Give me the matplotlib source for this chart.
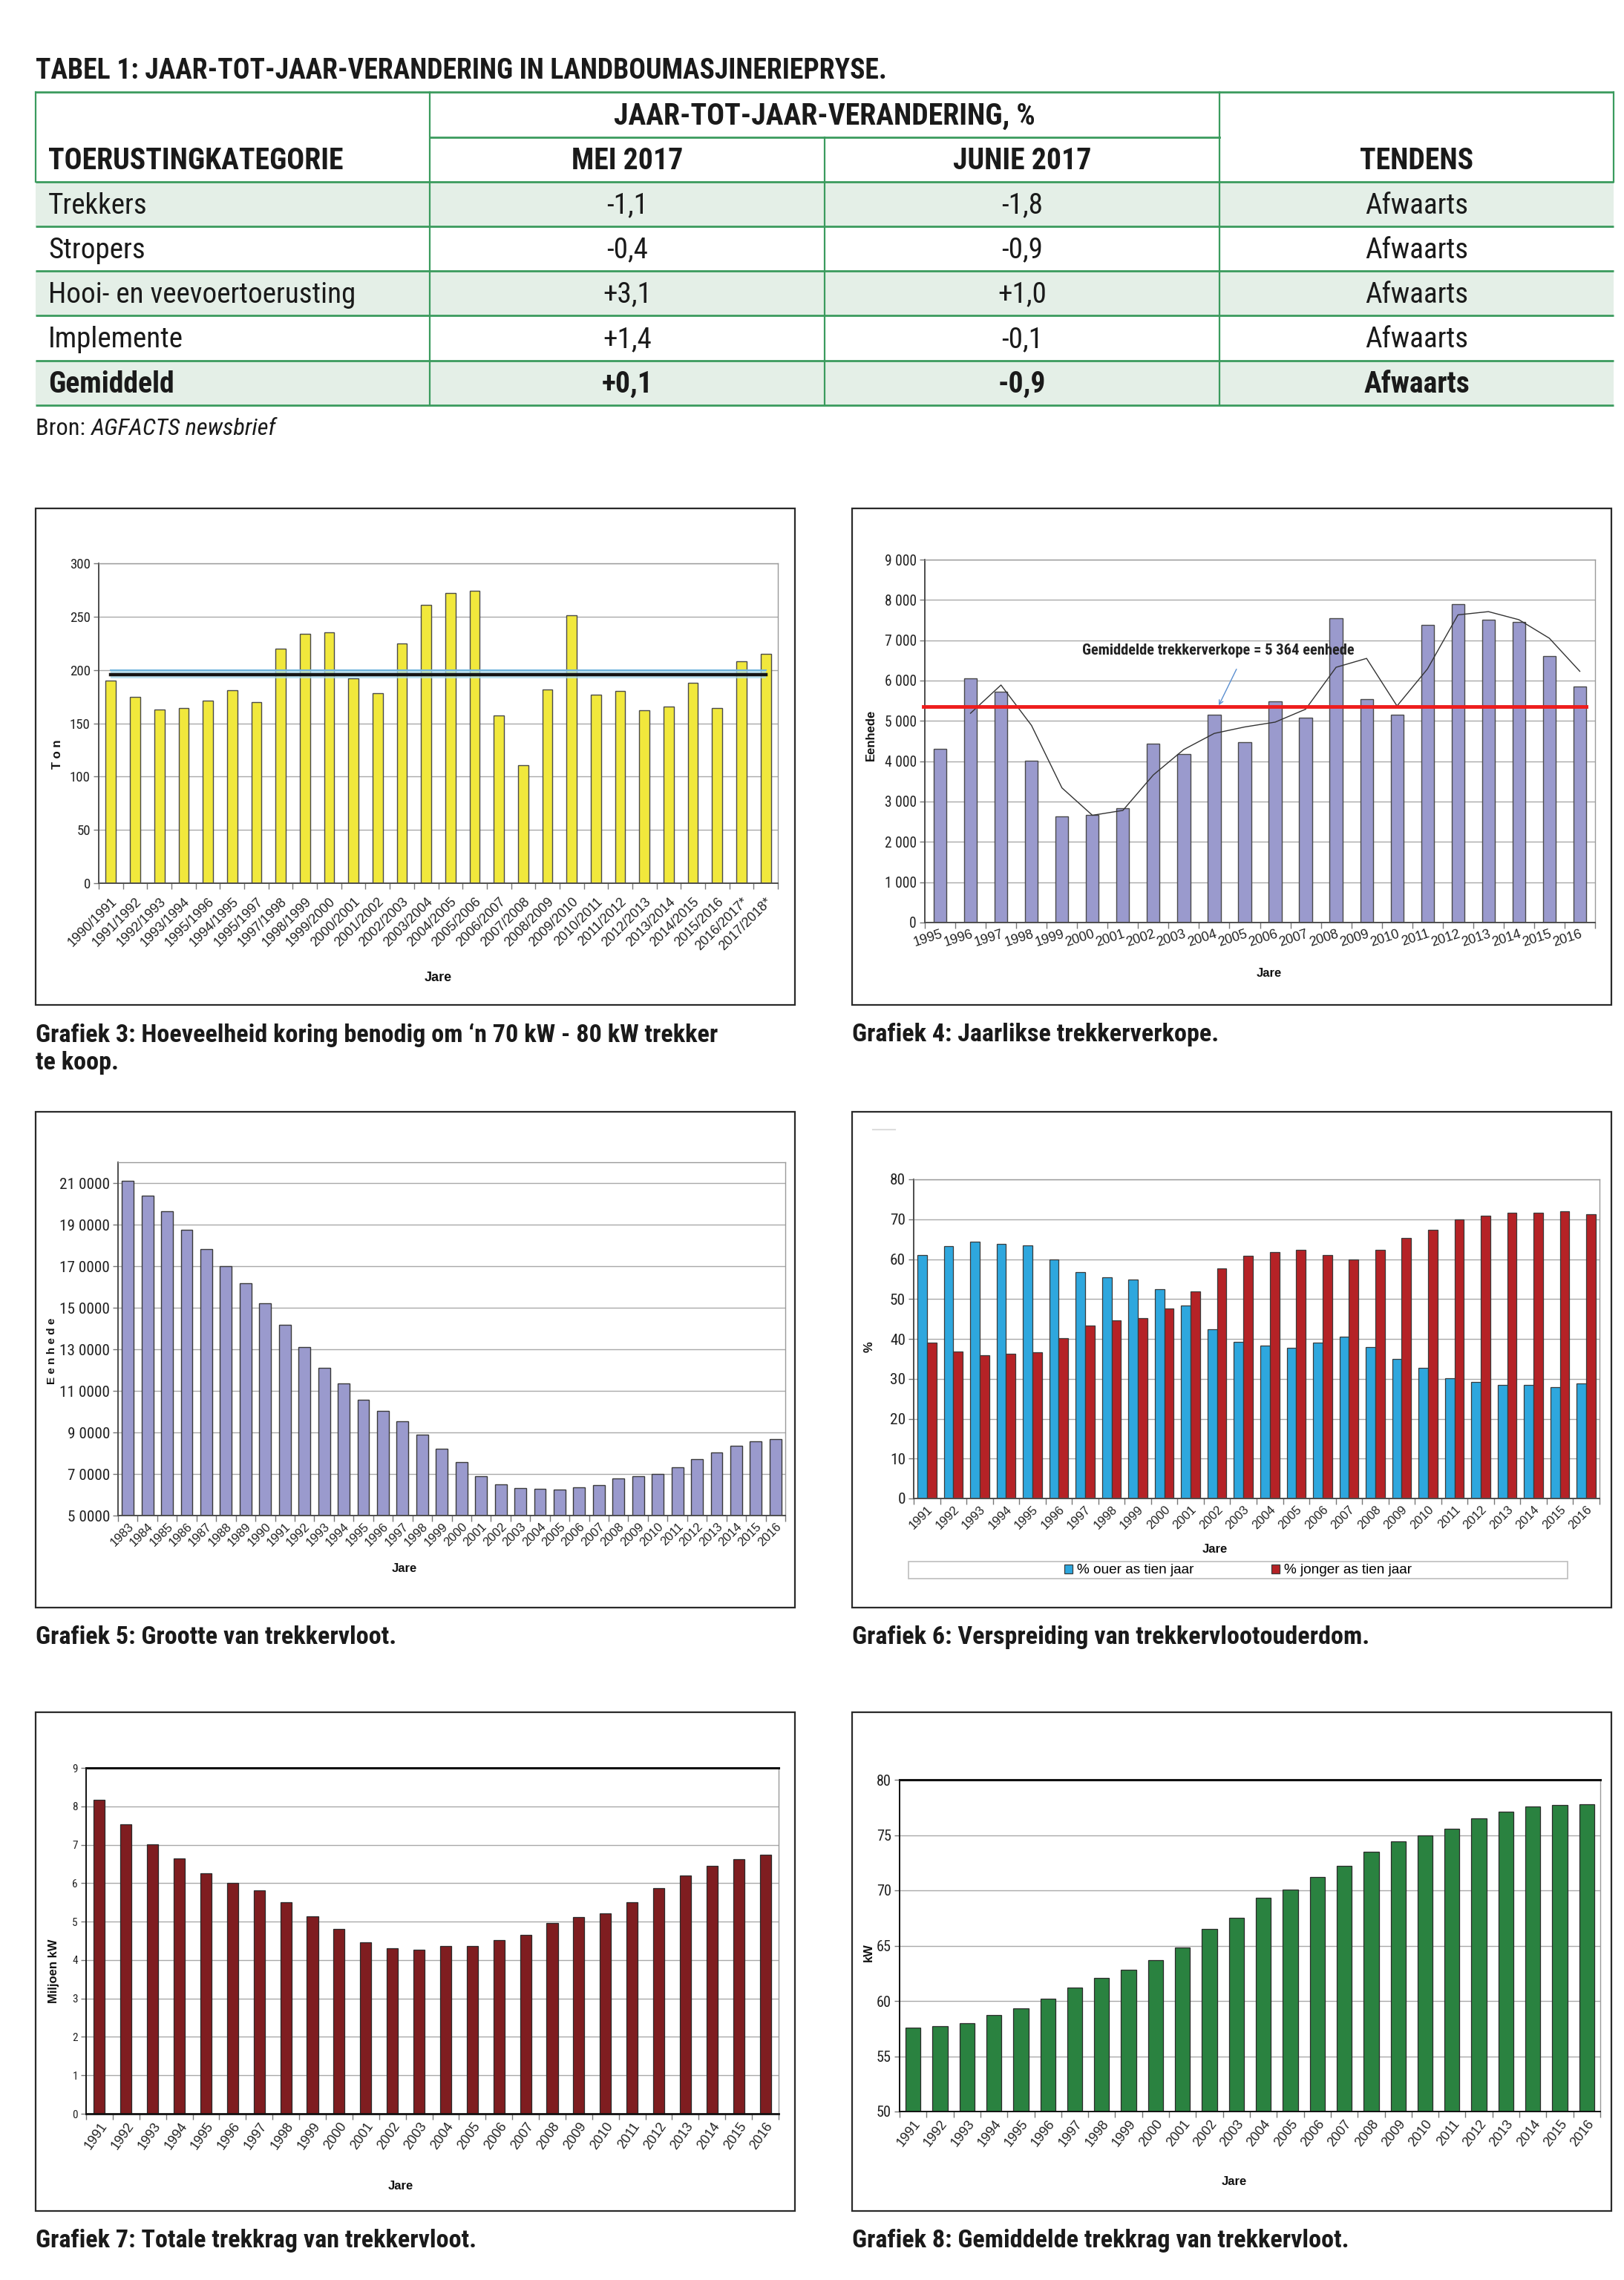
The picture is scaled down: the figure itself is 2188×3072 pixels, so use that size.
import os
import matplotlib
matplotlib.use("Agg")
import matplotlib.pyplot as plt
from matplotlib import font_manager as fm
from matplotlib.patches import Rectangle
from matplotlib.textpath import TextToPath
import numpy as np

W, H = 2188, 3072
SANS = ["Liberation Sans", "DejaVu Sans"]
plt.rcParams["font.family"] = SANS

# ---- Tabel 1
tabel_titel = "TABEL 1: JAAR-TOT-JAAR-VERANDERING IN LANDBOUMASJINERIEPRYSE."
kop_groep = "JAAR-TOT-JAAR-VERANDERING, %"
kop_kolomme = ["TOERUSTINGKATEGORIE", "MEI 2017", "JUNIE 2017", "TENDENS"]
kategorie = ["Trekkers", "Stropers", "Hooi- en veevoertoerusting", "Implemente", "Gemiddeld"]
mei_2017 = ["-1,1", "-0,4", "+3,1", "+1,4", "+0,1"]
junie_2017 = ["-1,8", "-0,9", "+1,0", "-0,1", "-0,9"]
tendens = ["Afwaarts", "Afwaarts", "Afwaarts", "Afwaarts", "Afwaarts"]

# ---- Grafiek 3: koring (ton) benodig vir trekker
seisoene3 = ["1990/1991", "1991/1992", "1992/1993", "1993/1994", "1995/1996", "1994/1995",
             "1995/1997", "1997/1998", "1998/1999", "1999/2000", "2000/2001", "2001/2002",
             "2002/2003", "2003/2004", "2004/2005", "2005/2006", "2006/2007", "2007/2008",
             "2008/2009", "2009/2010", "2010/2011", "2011/2012", "2012/2013", "2013/2014",
             "2014/2015", "2015/2016", "2016/2017*", "2017/2018*"]
ton3 = [190, 175, 163, 164, 171, 181, 170, 220, 234, 235, 192, 178, 225, 261,
        272, 274, 157, 111, 182, 251, 177, 180, 162, 166, 188, 164, 208, 215]
ton3_gemiddeld = 195.3
ton3_band = (192, 200)

# ---- Grafiek 4: jaarlikse trekkerverkope
jare4 = [str(j) for j in range(1995, 2017)]
verkope4 = [4310, 6050, 5720, 4015, 2625, 2660, 2840, 4430, 4180, 5155, 4470,
            5485, 5085, 7550, 5545, 5150, 7375, 7895, 7510, 7460, 6600, 5850]
tendens4 = [5190, 5890, 4890, 3340, 2660, 2780, 3660, 4290, 4690, 4850, 4970,
            5290, 6330, 6550, 5370, 6290, 7630, 7710, 7510, 7050, 6230]  # 1996-2016
gemiddeld4 = 5364

# ---- Grafiek 5: grootte van trekkervloot (duisende)
jare5 = [str(j) for j in range(1983, 2017)]
vloot5 = [211.1, 204.1, 196.5, 187.5, 178.3, 170.0, 161.7, 152.1, 141.9, 131.0,
          120.9, 113.7, 105.8, 100.2, 95.2, 89.0, 82.1, 75.6, 68.9, 64.9, 63.3,
          62.9, 62.5, 63.6, 64.6, 67.8, 68.9, 70.0, 73.1, 77.1, 80.5, 83.5, 85.6, 86.9]
yticks5 = [50, 70, 90, 110, 130, 150, 170, 190, 210]
ylabels5 = ["5 0000", "7 0000", "9 0000", "11 0000", "13 0000", "15 0000",
            "17 0000", "19 0000", "21 0000"]

# ---- Grafiek 6: ouderdom van trekkervloot
jare6 = [str(j) for j in range(1991, 2017)]
ouer6 = [61.1, 63.3, 64.3, 63.9, 63.4, 60.0, 56.8, 55.4, 54.9, 52.5, 48.3, 42.5, 39.3,
         38.4, 37.8, 39.1, 40.5, 37.9, 35.0, 32.7, 30.1, 29.3, 28.4, 28.5, 28.0, 28.8]
jonger6 = [39.0, 36.8, 35.9, 36.3, 36.7, 40.2, 43.4, 44.7, 45.3, 47.6, 51.9, 57.6, 60.8,
           61.7, 62.3, 61.1, 59.9, 62.3, 65.3, 67.4, 69.9, 70.9, 71.7, 71.6, 72.0, 71.3]

# ---- Grafiek 7: totale trekkrag (miljoen kW)
jare7 = [str(j) for j in range(1991, 2017)]
trekkrag7 = [8.17, 7.54, 7.01, 6.65, 6.26, 6.01, 5.81, 5.51, 5.13, 4.80, 4.46, 4.31, 4.26,
             4.37, 4.37, 4.51, 4.65, 4.97, 5.12, 5.22, 5.51, 5.88, 6.20, 6.45, 6.63, 6.74]

# ---- Grafiek 8: gemiddelde trekkrag (kW)
jare8 = [str(j) for j in range(1991, 2017)]
kw8 = [57.6, 57.7, 58.0, 58.7, 59.3, 60.2, 61.2, 62.1, 62.8, 63.7, 64.8, 66.5, 67.5,
       69.3, 70.1, 71.2, 72.2, 73.5, 74.4, 75.0, 75.6, 76.5, 77.1, 77.6, 77.7, 77.8]

captions = {
    3: "Grafiek 3: Hoeveelheid koring benodig om \u2018n 70 kW - 80 kW trekker\nte koop.",
    4: "Grafiek 4: Jaarlikse trekkerverkope.",
    5: "Grafiek 5: Grootte van trekkervloot.",
    6: "Grafiek 6: Verspreiding van trekkervlootouderdom.",
    7: "Grafiek 7: Totale trekkrag van trekkervloot.",
    8: "Grafiek 8: Gemiddelde trekkrag van trekkervloot.",
}


# ---- narrow font lookup (magazine uses a condensed grotesk)
def narrow_fp(bold=False, italic=False):
    prefs = ["liberationsansnarrow", "robotocondensed", "notosans-condensed",
             "dejavusanscondensed"]
    found = []
    for f in fm.fontManager.ttflist:
        p = os.path.basename(f.fname).lower()
        rank = next((i for i, pre in enumerate(prefs) if p.startswith(pre)), None)
        if rank is None:
            continue
        if any(w in p for w in ["light", "medium", "black", "thin", "semi", "extra"]):
            continue
        if ("bold" in p) != bold or (("italic" in p) or ("oblique" in p)) != italic:
            continue
        found.append((rank, f.fname))
    if found:
        return fm.FontProperties(fname=sorted(found)[0][1])
    return fm.FontProperties(family="DejaVu Sans", weight="bold" if bold else "normal",
                             style="italic" if italic else "normal", stretch="condensed")


N_REG = narrow_fp()
N_BOLD = narrow_fp(bold=True)
N_ITAL = narrow_fp(italic=True)
S_REG = fm.FontProperties(family=SANS)
S_BOLD = fm.FontProperties(family=SANS, weight="bold")
_t2p = TextToPath()


def sized(fp, size):
    p = fp.copy()
    p.set_size(size)
    return p


def fit(s, px, fp):
    # font size (pt) that makes string s about px pixels wide at 100 dpi
    w, _, _ = _t2p.get_text_width_height_descent(s, sized(fp, 10), ismath=False)
    return 10 * px / (w * 100 / 72)


fig = plt.figure(figsize=(W / 100, H / 100), dpi=100)
bg = fig.add_axes([0, 0, 1, 1])
bg.set_xlim(0, W)
bg.set_ylim(H, 0)
bg.axis("off")


def axes_px(x0, y0, x1, y1):
    return fig.add_axes([x0 / W, 1 - y1 / H, (x1 - x0) / W, (y1 - y0) / H])


# ---------------- table ----------------
green = "#3b9b5e"
shade = "#e4efe7"
ink = "#1a1a1a"
col_x = [48, 579, 1111, 1643, 2174]
row_y = [124, 185, 245, 305, 365, 425, 486, 546]

titel_fp = sized(N_BOLD, fit(tabel_titel, 1147, N_BOLD))
reg_fp = sized(N_REG, fit("Hooi- en veevoertoerusting", 414, N_REG))
bold_fp = sized(N_BOLD, fit("TOERUSTINGKATEGORIE", 398, N_BOLD))

bg.text(48, 96, tabel_titel, fontproperties=titel_fp, va="center", ha="left", color=ink)

for i in (0, 2, 4):
    y0 = row_y[2 + i]
    bg.add_patch(Rectangle((col_x[0], y0), col_x[-1] - col_x[0], row_y[3 + i] - y0,
                           color=shade, lw=0, zorder=0))

for y in [124, 245, 305, 365, 425, 486, 546]:
    bg.plot([col_x[0], col_x[-1]], [y, y], color=green, lw=2.0, solid_capstyle="butt")
bg.plot([col_x[1], col_x[3]], [185, 185], color=green, lw=2.0)
for x, ya, yb in [(col_x[0], 124, 245), (col_x[4], 124, 245), (col_x[1], 124, 546),
                  (col_x[2], 185, 546), (col_x[3], 124, 546)]:
    bg.plot([x, x], [ya, yb], color=green, lw=1.6)

bg.text((col_x[1] + col_x[3]) / 2, 157, kop_groep, fontproperties=bold_fp,
        ha="center", va="center", color=ink)
bg.text(65, 217, kop_kolomme[0], fontproperties=bold_fp, ha="left", va="center", color=ink)
for k in range(1, 4):
    bg.text((col_x[k] + col_x[k + 1]) / 2, 217, kop_kolomme[k], fontproperties=bold_fp,
            ha="center", va="center", color=ink)

for i in range(len(kategorie)):
    yc = (row_y[2 + i] + row_y[3 + i]) / 2 + 2
    fp = bold_fp if kategorie[i] == "Gemiddeld" else reg_fp
    cells = [kategorie[i], mei_2017[i], junie_2017[i], tendens[i]]
    bg.text(65, yc, cells[0], fontproperties=fp, ha="left", va="center", color=ink)
    for k in range(1, 4):
        bg.text((col_x[k] + col_x[k + 1]) / 2, yc, cells[k], fontproperties=fp,
                ha="center", va="center", color=ink)

bron_size = fit("Bron: AGFACTS newsbrief", 331, N_REG)
bron = bg.text(48, 592, "Bron: ", fontproperties=sized(N_REG, bron_size), ha="left",
               va="bottom", color=ink)
bg.annotate("AGFACTS newsbrief", xy=(1, 0), xycoords=bron,
            fontproperties=sized(N_ITAL, bron_size), ha="left", va="bottom", color=ink)

# ---------------- chart boxes and captions ----------------
cap_fp = sized(N_BOLD, fit(captions[3].split("\n")[0], 918, N_BOLD))
boxes = {3: (48, 685, 1071, 1354), 4: (1148, 685, 2171, 1354),
         5: (48, 1498, 1071, 2166), 6: (1148, 1498, 2171, 2166),
         7: (48, 2307, 1071, 2979), 8: (1148, 2307, 2171, 2979)}
for key, (x0, y0, x1, y1) in boxes.items():
    bg.add_patch(Rectangle((x0, y0), x1 - x0, y1 - y0, fill=False, ec="#2a2a2a", lw=1.6))
    bg.text(x0, y1 + 24, captions[key], fontproperties=cap_fp, ha="left", va="top",
            linespacing=1.2, color=ink)

# tiny stray mark top-left of grafiek 6
bg.plot([1176, 1206], [1522, 1522], color="#dddddd", lw=1.5)


def bar_axes(box, labels, rot, ylim, yticks, yticklabels, ysize, xfs=11, pad=4,
             heavy_top=False):
    ax = axes_px(*box)
    n = len(labels)
    ax.set_xlim(-0.5, n - 0.5)
    ax.set_ylim(*ylim)
    ax.set_yticks(yticks)
    ax.set_yticklabels(yticklabels, fontproperties=sized(N_REG, ysize), color="#222222")
    ax.set_xticks(range(n))
    ax.set_xticklabels(labels, rotation=rot, ha="right", rotation_mode="anchor",
                       fontsize=xfs, color="#222222")
    ax.set_xticks(np.arange(n + 1) - 0.5, minor=True)
    ax.tick_params(axis="x", which="major", length=0, pad=pad)
    ax.tick_params(axis="x", which="minor", length=6, color="#777777", width=1)
    ax.tick_params(axis="y", length=5, color="#777777", width=1, pad=3)
    ax.grid(axis="y", color="#a9a9a9", lw=1.0)
    ax.set_axisbelow(True)
    for s in ("top", "right"):
        ax.spines[s].set_color("#9a9a9a")
        ax.spines[s].set_linewidth(1.0)
    for s in ("left", "bottom"):
        ax.spines[s].set_color("#4d4d4d")
        ax.spines[s].set_linewidth(1.4)
    if heavy_top:
        ax.spines["top"].set_color("#111111")
        ax.spines["top"].set_linewidth(2.2)
    return ax


def lab(x, y, s, rot=0, fs=13):
    bg.text(x, y, s, rotation=rot, fontproperties=sized(S_BOLD, fs),
            ha="center", va="center", color="#111111")


# ---------------- Grafiek 3 ----------------
ax3 = bar_axes((133, 759, 1048, 1190), seisoene3, 45, (0, 300), range(0, 301, 50),
               [str(v) for v in range(0, 301, 50)], fit("300", 28, N_REG), xfs=13, pad=12)
x3 = np.arange(len(ton3))
ax3.bar(x3, ton3, width=0.42, color="#f1e83c", edgecolor="#4a4a4a", lw=1.0, zorder=2)
ax3.fill_between([0, len(ton3) - 1], ton3_band[0], ton3_band[1], color="#a8dcf0",
                 alpha=0.75, lw=0, zorder=3)
ax3.plot([0, len(ton3) - 1], [ton3_band[1], ton3_band[1]], color="#6fb3dc", lw=1.5, zorder=3)
ax3.plot([0, len(ton3) - 1], [ton3_gemiddeld, ton3_gemiddeld], color="#151515", lw=3.2,
         zorder=4)
lab(78, 1016, "T o n", rot=90, fs=12)
lab(590, 1317, "Jare", fs=13)

# ---------------- Grafiek 4 ----------------
ax4 = bar_axes((1246, 754, 2149, 1243), jare4, 18, (0, 9000), range(0, 9001, 1000),
               ["0"] + [f"{v} 000" for v in range(1, 10)], fit("9 000", 43, N_REG),
               xfs=13, pad=5)
x4 = np.arange(len(verkope4))
ax4.bar(x4, verkope4, width=0.42, color="#9a9acd", edgecolor="#4a4a4a", lw=1.0, zorder=2)
ax4.plot(x4[1:], tendens4, color="#333333", lw=1.0, zorder=3)
ax4.plot([-0.55, len(verkope4) - 0.8], [gemiddeld4, gemiddeld4], color="#ee1c1c", lw=3.5,
         zorder=4, clip_on=False)
ax4.annotate("", xy=(9.12, 5340), xytext=(9.76, 6330),
             arrowprops=dict(arrowstyle="->", color="#5b8fd0", lw=1.0), zorder=5)
ann = f"Gemiddelde trekkerverkope = {gemiddeld4 // 1000} {gemiddeld4 % 1000} eenhede"
ax4.text(9.12, 6750, ann, fontproperties=sized(N_BOLD, fit(ann, 368, N_BOLD)),
         ha="center", va="center", color="#222222", zorder=5)
lab(1173, 990, "Eenhede", rot=90, fs=12)
lab(1710, 1311, "Jare", fs=12)

# ---------------- Grafiek 5 ----------------
ax5 = bar_axes((159, 1566, 1058, 2042), jare5, 45, (50, 220), yticks5, ylabels5,
               fit("21 0000", 68, N_REG), xfs=12, pad=5)
x5 = np.arange(len(vloot5))
ax5.bar(x5, vloot5, width=0.6, color="#9a9acd", edgecolor="#3a3a3a", lw=1.0, zorder=2)
lab(70, 1820, "E e n h e d e", rot=90, fs=11)
lab(545, 2113, "Jare", fs=12)

# ---------------- Grafiek 6 ----------------
ax6 = bar_axes((1231, 1589, 2155, 2019), jare6, 45, (0, 80), range(0, 81, 10),
               [str(v) for v in range(0, 81, 10)], fit("80", 21, N_REG), xfs=12, pad=5)
x6 = np.arange(len(ouer6))
ax6.bar(x6 - 0.18, ouer6, width=0.36, color="#2ea7de", edgecolor="#3a3a3a", lw=0.9,
        zorder=2, label="% ouer as tien jaar")
ax6.bar(x6 + 0.18, jonger6, width=0.36, color="#b52226", edgecolor="#3a3a3a", lw=0.9,
        zorder=2, label="% jonger as tien jaar")
bg.add_patch(Rectangle((1224, 2104), 888, 23, fill=False, ec="#bdbdbd", lw=1.2))
fig.legend(loc="center", bbox_to_anchor=(1668 / W, 1 - 2116 / H), ncol=2, frameon=False,
           prop=sized(S_REG, fit("% ouer as tien jaar", 158, S_REG)), handlelength=0.6,
           handleheight=0.6, handletextpad=0.3, columnspacing=5.5, borderaxespad=0,
           borderpad=0)
lab(1171, 1815, "%", rot=90, fs=12)
lab(1637, 2088, "Jare", fs=12)

# ---------------- Grafiek 7 ----------------
ax7 = bar_axes((116, 2382, 1049, 2848), jare7, 55, (0, 9), range(0, 10),
               [str(v) for v in range(0, 10)], 11, xfs=13, pad=6, heavy_top=True)
x7 = np.arange(len(trekkrag7))
ax7.bar(x7, trekkrag7, width=0.42, color="#7f1d20", edgecolor="#2a2a2a", lw=0.9, zorder=2)
ax7.spines["left"].set_color("#111111")
ax7.spines["bottom"].set_color("#111111")
ax7.spines["bottom"].set_linewidth(2.0)
lab(73, 2656, "Miljoen kW", rot=90, fs=12)
lab(540, 2945, "Jare", fs=12)

# ---------------- Grafiek 8 ----------------
ax8 = bar_axes((1212, 2398, 2156, 2845), jare8, 52, (50, 80), range(50, 81, 5),
               [str(v) for v in range(50, 81, 5)], fit("80", 20, N_REG), xfs=13, pad=6,
               heavy_top=True)
x8 = np.arange(len(kw8))
ax8.bar(x8, kw8, width=0.56, color="#2a8240", edgecolor="#2a2a2a", lw=0.9, zorder=2)
ax8.spines["left"].set_color("#111111")
ax8.spines["bottom"].set_color("#111111")
lab(1170, 2631, "kW", rot=90, fs=12)
lab(1663, 2940, "Jare", fs=12)

fig.savefig("out.png", dpi=100)
